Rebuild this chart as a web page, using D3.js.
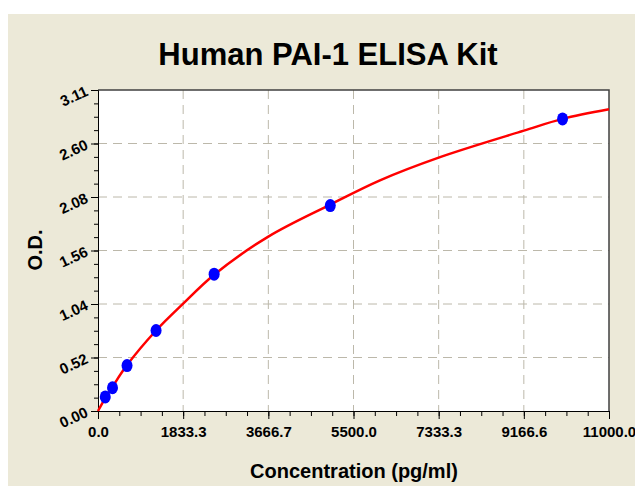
<!DOCTYPE html>
<html>
<head>
<meta charset="utf-8">
<title>Human PAI-1 ELISA Kit</title>
<script src="https://cdn.jsdelivr.net/npm/d3@7/dist/d3.min.js"></script>
<style>
    body { margin: 0; background: #fff; }
    svg text { font-family: "Liberation Sans", Arial, sans-serif; font-weight: bold; fill: #000; }
</style>
</head>
<body>
<svg id="mainsvg" width="635" height="486"></svg>
<script>
    // standard points (pg/ml, O.D.)
    const concentrations = [156.25, 312.5, 625, 1250, 2500, 5000, 10000];
    const odValues = [0.136, 0.225, 0.44, 0.78, 1.326, 1.99, 2.83];

    // fitted curve
    const curveConc = [0, 156.25, 312.5, 625, 1250, 1833.3, 2500, 3666.7, 5000, 6070, 7333.3, 9166.6, 10000, 11000];
    const curveOd = [0, 0.125, 0.235, 0.445, 0.78, 1.04, 1.32, 1.69, 2.0, 2.235, 2.455, 2.716, 2.83, 2.923];

    const xTickLabels = ['0.0', '1833.3', '3666.7', '5500.0', '7333.3', '9166.6', '11000.0'];
    const yTickLabels = ['0.00', '0.52', '1.04', '1.56', '2.08', '2.60', '3.11'];
    const xMax = 11000, yMax = 3.11;

    const svg = d3.select('#mainsvg');
    const width = +svg.attr('width');
    const height = +svg.attr('height');
    const margin = { top: 90, right: 26, bottom: 75, left: 98 };
    const innerWidth = width - margin.left - margin.right;
    const innerHeight = height - margin.top - margin.bottom;

    // beige panel
    svg.append('rect').attr('x', 8).attr('y', 14)
        .attr('width', width - 8).attr('height', height - 14)
        .attr('fill', '#ece9d8');

    svg.append('text').attr('x', 328).attr('y', 65)
        .attr('text-anchor', 'middle').attr('font-size', 31)
        .text('Human PAI-1 ELISA Kit');

    const g = svg.append('g').attr('transform', `translate(${margin.left}, ${margin.top})`);

    const xScale = d3.scaleLinear().domain([0, xMax]).range([0, innerWidth]);
    const yScale = d3.scaleLinear().domain([0, yMax]).range([innerHeight, 0]);

    const xMajor = d3.range(7).map(i => i * xMax / 6);
    const yMajor = d3.range(7).map(i => i * yMax / 6);
    const xMinor = d3.range(25).map(i => i * xMax / 24);
    const yMinor = d3.range(25).map(i => i * yMax / 24);

    g.append('rect').attr('width', innerWidth).attr('height', innerHeight).attr('fill', '#fff');

    // dashed grid
    g.selectAll('.vgrid').data(xMajor.slice(1, -1)).join('line')
        .attr('class', 'vgrid')
        .attr('x1', d => xScale(d)).attr('x2', d => xScale(d))
        .attr('y1', 0).attr('y2', innerHeight)
        .attr('stroke', '#bcb8aa').attr('stroke-dasharray', '9,6');
    g.selectAll('.hgrid').data(yMajor.slice(1, -1)).join('line')
        .attr('class', 'hgrid')
        .attr('y1', d => yScale(d)).attr('y2', d => yScale(d))
        .attr('x1', 0).attr('x2', innerWidth)
        .attr('stroke', '#bcb8aa').attr('stroke-dasharray', '9,6');

    // frame
    g.append('path')
        .attr('d', `M0,0H${innerWidth}V${innerHeight}`)
        .attr('fill', 'none').attr('stroke', '#404040').attr('stroke-width', 1.5);

    // axes: minor ticks first, then major with labels
    g.append('g').attr('transform', `translate(0, ${innerHeight})`)
        .call(d3.axisBottom(xScale).tickValues(xMinor).tickSize(5).tickFormat(''))
        .call(a => a.select('.domain').remove());
    const xAxis = g.append('g').attr('transform', `translate(0, ${innerHeight})`)
        .call(d3.axisBottom(xScale).tickValues(xMajor).tickSize(8).tickPadding(7)
            .tickFormat((d, i) => xTickLabels[i]));
    xAxis.selectAll('text').attr('font-size', 15).attr('font-family', null);

    g.append('g')
        .call(d3.axisLeft(yScale).tickValues(yMinor).tickSize(4).tickFormat(''))
        .call(a => a.select('.domain').remove());
    const yAxis = g.append('g')
        .call(d3.axisLeft(yScale).tickValues(yMajor).tickSize(7)
            .tickFormat((d, i) => yTickLabels[i]));
    yAxis.selectAll('text').attr('font-size', 15).attr('font-family', null)
        .attr('x', -11).attr('dy', '0.32em')
        .attr('transform', 'rotate(-25, -11, 0)');
    g.selectAll('.domain').attr('stroke', '#000');

    // fitted curve
    const curvePts = curveConc.map((c, i) => [c, curveOd[i]]);
    g.append('path').datum(curvePts)
        .attr('fill', 'none').attr('stroke', '#ff0000').attr('stroke-width', 2.5)
        .attr('d', d3.line().x(d => xScale(d[0])).y(d => yScale(d[1])).curve(d3.curveCatmullRom.alpha(0.5)));

    // standards
    g.selectAll('.pt').data(concentrations).join('ellipse')
        .attr('class', 'pt')
        .attr('cx', d => xScale(d)).attr('cy', (d, i) => yScale(odValues[i]))
        .attr('rx', 5.5).attr('ry', 6.5)
        .attr('fill', '#0000ff');

    // axis titles
    svg.append('text').attr('x', 354).attr('y', 478)
        .attr('text-anchor', 'middle').attr('font-size', 20)
        .text('Concentration (pg/ml)');
    svg.append('text').attr('transform', 'translate(42, 250) rotate(-90)')
        .attr('text-anchor', 'middle').attr('font-size', 20)
        .text('O.D.');
</script>
</body>
</html>
